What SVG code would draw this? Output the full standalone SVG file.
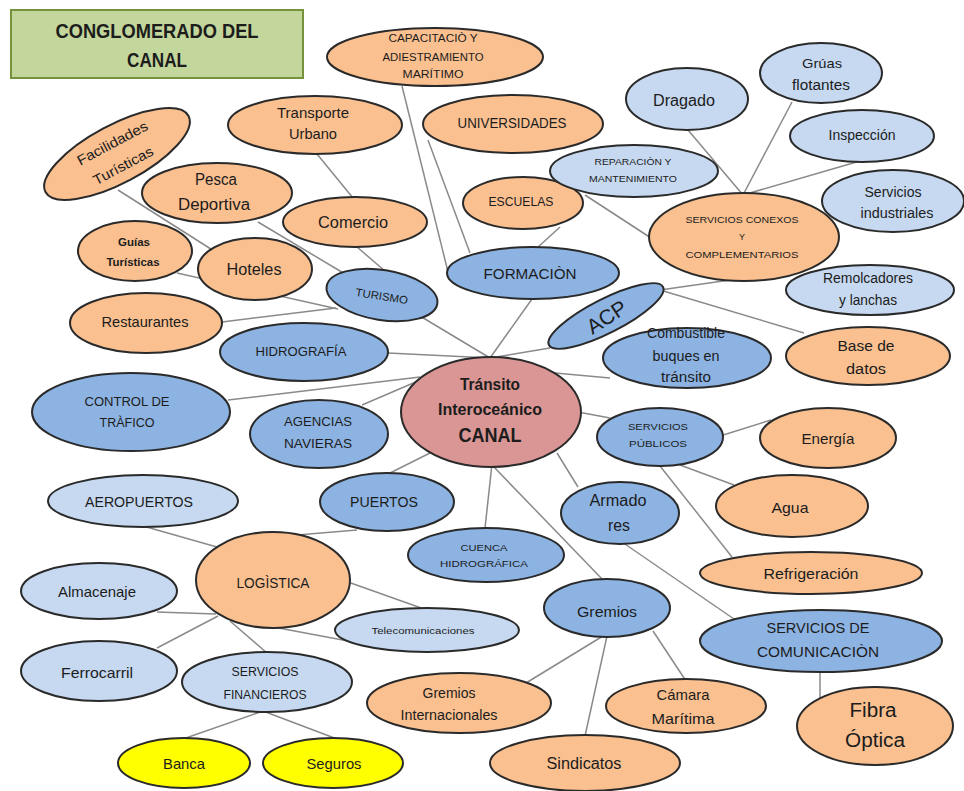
<svg xmlns="http://www.w3.org/2000/svg" width="964" height="791" viewBox="0 0 964 791">
<style>
  .e { stroke: #2a2a2a; stroke-width: 2; }
  .o { fill: #fac090; }
  .lb { fill: #c6d9f1; }
  .mb { fill: #8db3e2; }
  .pk { fill: #d99694; }
  .y { fill: #ffff00; }
  text { font-family: "Liberation Sans", Arial, sans-serif; fill: #1c1c1c; text-anchor: middle; dominant-baseline: central; }
  .b { font-weight: bold; }
  #connectors line { stroke: #8a8a8a; stroke-width: 1.5; }
</style>
<rect width="964" height="791" fill="#ffffff"/>

<g id="connectors">
  <line x1="420" y1="316" x2="490" y2="358"/>
  <line x1="388" y1="353" x2="490" y2="358"/>
  <line x1="532" y1="299" x2="490" y2="358"/>
  <line x1="550" y1="348" x2="490" y2="358"/>
  <line x1="228" y1="400" x2="420" y2="377"/>
  <line x1="362" y1="405" x2="418" y2="381"/>
  <line x1="390" y1="473" x2="432" y2="452"/>
  <line x1="485" y1="528" x2="492" y2="464"/>
  <line x1="493" y1="466" x2="603" y2="580"/>
  <line x1="557" y1="453" x2="578" y2="487"/>
  <line x1="578" y1="412" x2="610" y2="418"/>
  <line x1="555" y1="373" x2="610" y2="378"/>
  <line x1="402" y1="86" x2="448" y2="272"/>
  <line x1="428" y1="140" x2="470" y2="253"/>
  <line x1="560" y1="227" x2="537" y2="248"/>
  <line x1="317" y1="154" x2="353" y2="198"/>
  <line x1="357" y1="247" x2="385" y2="271"/>
  <line x1="258" y1="222" x2="345" y2="274"/>
  <line x1="118" y1="190" x2="214" y2="251"/>
  <line x1="177" y1="273" x2="338" y2="309"/>
  <line x1="222" y1="322" x2="336" y2="308"/>
  <line x1="688" y1="130" x2="743" y2="195"/>
  <line x1="792" y1="102" x2="743" y2="195"/>
  <line x1="860" y1="161" x2="743" y2="195"/>
  <line x1="585" y1="195" x2="651" y2="238"/>
  <line x1="730" y1="280" x2="660" y2="290"/>
  <line x1="660" y1="290" x2="804" y2="333"/>
  <line x1="720" y1="436" x2="771" y2="420"/>
  <line x1="680" y1="465" x2="734" y2="485"/>
  <line x1="660" y1="466" x2="732" y2="557"/>
  <line x1="622" y1="542" x2="734" y2="619"/>
  <line x1="820" y1="671" x2="820" y2="698"/>
  <line x1="603" y1="636" x2="526" y2="683"/>
  <line x1="607" y1="636" x2="585" y2="736"/>
  <line x1="653" y1="631" x2="686" y2="681"/>
  <line x1="143" y1="526" x2="231" y2="551"/>
  <line x1="357" y1="530" x2="285" y2="536"/>
  <line x1="157" y1="612" x2="216" y2="614"/>
  <line x1="268" y1="626" x2="348" y2="641"/>
  <line x1="348" y1="582" x2="424" y2="609"/>
  <line x1="157" y1="648" x2="218" y2="616"/>
  <line x1="230" y1="621" x2="267" y2="653"/>
  <line x1="263" y1="711" x2="183" y2="739"/>
  <line x1="263" y1="711" x2="337" y2="739"/>
</g>

<g id="title">
  <rect x="11" y="10" width="292" height="68" fill="#c3d69b" stroke="#76923c" stroke-width="2"/>
  <text x="157" y="30" class="b" font-size="21" textLength="203" lengthAdjust="spacingAndGlyphs">CONGLOMERADO  DEL</text>
  <text x="157" y="59" class="b" font-size="21" textLength="60" lengthAdjust="spacingAndGlyphs">CANAL</text>
</g>

<g id="capacitacion">
  <ellipse class="e o" cx="435" cy="57" rx="108" ry="29"/>
  <text x="433" y="38" font-size="10" textLength="89" lengthAdjust="spacingAndGlyphs">CAPACITACIÒ Y</text>
  <text x="433" y="57" font-size="10" textLength="101" lengthAdjust="spacingAndGlyphs">ADIESTRAMIENTO</text>
  <text x="433" y="74" font-size="10" textLength="61" lengthAdjust="spacingAndGlyphs">MARÍTIMO</text>
</g>
<g id="universidades">
  <ellipse class="e o" cx="513" cy="124" rx="90" ry="29"/>
  <text x="512" y="123" font-size="14" textLength="109" lengthAdjust="spacingAndGlyphs">UNIVERSIDADES</text>
</g>
<g id="transporte">
  <ellipse class="e o" cx="315" cy="125" rx="87" ry="29"/>
  <text x="313" y="112" font-size="15" textLength="72" lengthAdjust="spacingAndGlyphs">Transporte</text>
  <text x="313" y="133" font-size="15" textLength="48" lengthAdjust="spacingAndGlyphs">Urbano</text>
</g>
<g id="facilidades" transform="translate(117 154) rotate(-28)">
  <ellipse class="e o" cx="0" cy="0" rx="81" ry="29"/>
  <text x="1" y="-12" font-size="14" textLength="78" lengthAdjust="spacingAndGlyphs">Facilidades</text>
  <text x="0" y="13" font-size="14" textLength="66" lengthAdjust="spacingAndGlyphs">Turísticas</text>
</g>
<g id="pesca">
  <ellipse class="e o" cx="217" cy="193" rx="75" ry="30"/>
  <text x="216" y="179" font-size="16" textLength="42" lengthAdjust="spacingAndGlyphs">Pesca</text>
  <text x="214" y="204" font-size="16" textLength="72" lengthAdjust="spacingAndGlyphs">Deportiva</text>
</g>
<g id="comercio">
  <ellipse class="e o" cx="355" cy="222" rx="72" ry="25"/>
  <text x="353" y="222" font-size="16" textLength="70" lengthAdjust="spacingAndGlyphs">Comercio</text>
</g>
<g id="guias">
  <ellipse class="e o" cx="135" cy="251" rx="57" ry="30"/>
  <text x="134" y="242" font-size="11" class="b" textLength="32" lengthAdjust="spacingAndGlyphs">Guías</text>
  <text x="133" y="262" font-size="11" class="b" textLength="53" lengthAdjust="spacingAndGlyphs">Turísticas</text>
</g>
<g id="hoteles">
  <ellipse class="e o" cx="255" cy="269" rx="57" ry="31"/>
  <text x="254" y="269" font-size="16" textLength="55" lengthAdjust="spacingAndGlyphs">Hoteles</text>
</g>
<g id="turismo" transform="translate(382 295) rotate(9)">
  <ellipse class="e mb" cx="0" cy="0" rx="56" ry="25"/>
  <text x="0" y="1" font-size="11" textLength="53" lengthAdjust="spacingAndGlyphs">TURISMO</text>
</g>
<g id="restaurantes">
  <ellipse class="e o" cx="146" cy="323" rx="76" ry="30"/>
  <text x="145" y="322" font-size="14.5" textLength="87" lengthAdjust="spacingAndGlyphs">Restaurantes</text>
</g>
<g id="hidrografia">
  <ellipse class="e mb" cx="304" cy="352" rx="84" ry="29"/>
  <text x="301" y="351" font-size="13" textLength="91" lengthAdjust="spacingAndGlyphs">HIDROGRAFÍA</text>
</g>
<g id="escuelas">
  <ellipse class="e o" cx="523" cy="203" rx="60" ry="26"/>
  <text x="521" y="202" font-size="12.5" textLength="65" lengthAdjust="spacingAndGlyphs">ESCUELAS</text>
</g>
<g id="formacion">
  <ellipse class="e mb" cx="533" cy="273" rx="86" ry="26"/>
  <text x="530" y="273" font-size="15.5" textLength="93" lengthAdjust="spacingAndGlyphs">FORMACIÒN</text>
</g>
<g id="reparacion">
  <ellipse class="e lb" cx="634" cy="171" rx="84" ry="26"/>
  <text x="633" y="162" font-size="9" textLength="77" lengthAdjust="spacingAndGlyphs">REPARACIÒN  Y</text>
  <text x="633" y="179" font-size="9" textLength="88" lengthAdjust="spacingAndGlyphs">MANTENIMIENTO</text>
</g>
<g id="dragado">
  <ellipse class="e lb" cx="687" cy="99" rx="61" ry="31"/>
  <text x="684" y="100" font-size="16" textLength="62" lengthAdjust="spacingAndGlyphs">Dragado</text>
</g>
<g id="gruas">
  <ellipse class="e lb" cx="821" cy="73" rx="61" ry="30"/>
  <text x="822" y="63" font-size="13" textLength="40" lengthAdjust="spacingAndGlyphs">Grúas</text>
  <text x="821" y="85" font-size="14" textLength="58" lengthAdjust="spacingAndGlyphs">flotantes</text>
</g>
<g id="inspeccion">
  <ellipse class="e lb" cx="862" cy="136" rx="72" ry="26"/>
  <text x="862" y="135" font-size="14.5" textLength="67" lengthAdjust="spacingAndGlyphs">Inspección</text>
</g>
<g id="industriales">
  <ellipse class="e lb" cx="893" cy="201" rx="71" ry="31"/>
  <text x="893" y="192" font-size="14" textLength="57" lengthAdjust="spacingAndGlyphs">Servicios</text>
  <text x="897" y="213" font-size="14" textLength="73" lengthAdjust="spacingAndGlyphs">industriales</text>
</g>
<g id="conexos">
  <ellipse class="e o" cx="744" cy="237" rx="95" ry="44"/>
  <text x="742" y="220" font-size="9" textLength="113" lengthAdjust="spacingAndGlyphs">SERVICIOS CONEXOS</text>
  <text x="742" y="237" font-size="9">Y</text>
  <text x="742" y="255" font-size="9" textLength="113" lengthAdjust="spacingAndGlyphs">COMPLEMENTARIOS</text>
</g>
<g id="remolcadores">
  <ellipse class="e lb" cx="870" cy="290" rx="84" ry="25"/>
  <text x="868" y="278" font-size="14" textLength="90" lengthAdjust="spacingAndGlyphs">Remolcadores</text>
  <text x="868" y="300" font-size="14" textLength="58" lengthAdjust="spacingAndGlyphs">y lanchas</text>
</g>
<g id="acp" transform="translate(606 316) rotate(-27)">
  <ellipse class="e mb" cx="0" cy="0" rx="64" ry="17"/>
  <text x="0" y="1" font-size="21" transform="rotate(-6)">ACP</text>
</g>
<g id="combustible">
  <ellipse class="e mb" cx="687" cy="358" rx="84" ry="30"/>
  <text x="686" y="333" font-size="14" textLength="78" lengthAdjust="spacingAndGlyphs">Combustible</text>
  <text x="686" y="356" font-size="14" textLength="67" lengthAdjust="spacingAndGlyphs">buques en</text>
  <text x="686" y="377" font-size="14" textLength="50" lengthAdjust="spacingAndGlyphs">tránsito</text>
</g>
<g id="basedatos">
  <ellipse class="e o" cx="868" cy="356" rx="82" ry="29"/>
  <text x="866" y="345" font-size="15.5" textLength="57" lengthAdjust="spacingAndGlyphs">Base de</text>
  <text x="866" y="368" font-size="15.5" textLength="40" lengthAdjust="spacingAndGlyphs">datos</text>
</g>
<g id="control">
  <ellipse class="e mb" cx="131" cy="412" rx="99" ry="39"/>
  <text x="127" y="402" font-size="12.5" textLength="85" lengthAdjust="spacingAndGlyphs">CONTROL DE</text>
  <text x="127" y="423" font-size="12.5" textLength="55" lengthAdjust="spacingAndGlyphs">TRÀFICO</text>
</g>
<g id="agencias">
  <ellipse class="e mb" cx="319" cy="434" rx="69" ry="34"/>
  <text x="318" y="421" font-size="13" textLength="68" lengthAdjust="spacingAndGlyphs">AGENCIAS</text>
  <text x="318" y="443" font-size="13" textLength="68" lengthAdjust="spacingAndGlyphs">NAVIERAS</text>
</g>
<g id="canal">
  <ellipse class="e pk" cx="491" cy="412" rx="90" ry="55"/>
  <text x="490" y="384" class="b" font-size="16" textLength="60" lengthAdjust="spacingAndGlyphs">Tránsito</text>
  <text x="490" y="409" class="b" font-size="16" textLength="104" lengthAdjust="spacingAndGlyphs">Interoceánico</text>
  <text x="490" y="435" class="b" font-size="20" textLength="63" lengthAdjust="spacingAndGlyphs">CANAL</text>
</g>
<g id="publicos">
  <ellipse class="e mb" cx="660" cy="437" rx="63" ry="29"/>
  <text x="658" y="426" font-size="9.5" textLength="60" lengthAdjust="spacingAndGlyphs">SERVICIOS</text>
  <text x="658" y="443" font-size="9.5" textLength="58" lengthAdjust="spacingAndGlyphs">PÚBLICOS</text>
</g>
<g id="energia">
  <ellipse class="e o" cx="828" cy="438" rx="68" ry="30"/>
  <text x="828" y="438" font-size="15" textLength="53" lengthAdjust="spacingAndGlyphs">Energía</text>
</g>
<g id="agua">
  <ellipse class="e o" cx="792" cy="506" rx="76" ry="31"/>
  <text x="790" y="507" font-size="15" textLength="37" lengthAdjust="spacingAndGlyphs">Agua</text>
</g>
<g id="refrigeracion">
  <ellipse class="e o" cx="811" cy="573" rx="111" ry="21"/>
  <text x="811" y="573" font-size="15.5" textLength="95" lengthAdjust="spacingAndGlyphs">Refrigeración</text>
</g>
<g id="aeropuertos">
  <ellipse class="e lb" cx="143" cy="501" rx="95" ry="26"/>
  <text x="139" y="502" font-size="14" textLength="108" lengthAdjust="spacingAndGlyphs">AEROPUERTOS</text>
</g>
<g id="puertos">
  <ellipse class="e mb" cx="387" cy="502" rx="67" ry="29"/>
  <text x="384" y="502" font-size="14" textLength="68" lengthAdjust="spacingAndGlyphs">PUERTOS</text>
</g>
<g id="armadores">
  <ellipse class="e mb" cx="620" cy="513" rx="59" ry="31"/>
  <text x="618" y="500" font-size="16" textLength="57" lengthAdjust="spacingAndGlyphs">Armado</text>
  <text x="619" y="525" font-size="16" textLength="22" lengthAdjust="spacingAndGlyphs">res</text>
</g>
<g id="cuenca">
  <ellipse class="e mb" cx="486" cy="555" rx="78" ry="27"/>
  <text x="484" y="547" font-size="9.5" textLength="47" lengthAdjust="spacingAndGlyphs">CUENCA</text>
  <text x="484" y="563" font-size="9.5" textLength="88" lengthAdjust="spacingAndGlyphs">HIDROGRÁFICA</text>
</g>
<g id="logistica">
  <ellipse class="e o" cx="273" cy="580" rx="77" ry="48"/>
  <text x="273" y="583" font-size="14" textLength="73" lengthAdjust="spacingAndGlyphs">LOGÌSTICA</text>
</g>
<g id="almacenaje">
  <ellipse class="e lb" cx="99" cy="591" rx="78" ry="28"/>
  <text x="97" y="591" font-size="15" textLength="78" lengthAdjust="spacingAndGlyphs">Almacenaje</text>
</g>
<g id="telecomunicaciones">
  <ellipse class="e lb" cx="427" cy="630" rx="92" ry="22"/>
  <text x="423" y="631" font-size="9" textLength="103" lengthAdjust="spacingAndGlyphs">Telecomunicaciones</text>
</g>
<g id="gremios">
  <ellipse class="e mb" cx="607" cy="608" rx="63" ry="29"/>
  <text x="607" y="611" font-size="15.5" textLength="60" lengthAdjust="spacingAndGlyphs">Gremios</text>
</g>
<g id="comunicacion">
  <ellipse class="e mb" cx="821" cy="641" rx="121" ry="31"/>
  <text x="818" y="628" font-size="14" textLength="103" lengthAdjust="spacingAndGlyphs">SERVICIOS  DE</text>
  <text x="818" y="652" font-size="14" textLength="122" lengthAdjust="spacingAndGlyphs">COMUNICACIÒN</text>
</g>
<g id="fibra">
  <ellipse class="e o" cx="875" cy="726" rx="78" ry="39"/>
  <text x="873" y="710" font-size="20" textLength="47" lengthAdjust="spacingAndGlyphs">Fibra</text>
  <text x="875" y="740" font-size="20" textLength="60" lengthAdjust="spacingAndGlyphs">Óptica</text>
</g>
<g id="camara">
  <ellipse class="e o" cx="686" cy="706" rx="80" ry="27"/>
  <text x="683" y="694" font-size="15" textLength="53" lengthAdjust="spacingAndGlyphs">Cámara</text>
  <text x="683" y="718" font-size="15" textLength="63" lengthAdjust="spacingAndGlyphs">Marítima</text>
</g>
<g id="sindicatos">
  <ellipse class="e o" cx="585" cy="763" rx="95" ry="28"/>
  <text x="584" y="763" font-size="16" textLength="75" lengthAdjust="spacingAndGlyphs">Sindicatos</text>
</g>
<g id="gremiosint">
  <ellipse class="e o" cx="459" cy="703" rx="92" ry="30"/>
  <text x="449" y="693" font-size="14" textLength="53" lengthAdjust="spacingAndGlyphs">Gremios</text>
  <text x="449" y="715" font-size="14" textLength="97" lengthAdjust="spacingAndGlyphs">Internacionales</text>
</g>
<g id="financieros">
  <ellipse class="e lb" cx="267" cy="682" rx="85" ry="30"/>
  <text x="265" y="672" font-size="12" textLength="67" lengthAdjust="spacingAndGlyphs">SERVICIOS</text>
  <text x="265" y="695" font-size="12" textLength="83" lengthAdjust="spacingAndGlyphs">FINANCIEROS</text>
</g>
<g id="ferrocarril">
  <ellipse class="e lb" cx="99" cy="671" rx="78" ry="30"/>
  <text x="97" y="672" font-size="15" textLength="72" lengthAdjust="spacingAndGlyphs">Ferrocarril</text>
</g>
<g id="banca">
  <ellipse class="e y" cx="184" cy="763" rx="66" ry="25"/>
  <text x="184" y="763" font-size="15" textLength="42" lengthAdjust="spacingAndGlyphs">Banca</text>
</g>
<g id="seguros">
  <ellipse class="e y" cx="333" cy="763" rx="70" ry="25"/>
  <text x="334" y="763" font-size="15" textLength="55" lengthAdjust="spacingAndGlyphs">Seguros</text>
</g>
</svg>
